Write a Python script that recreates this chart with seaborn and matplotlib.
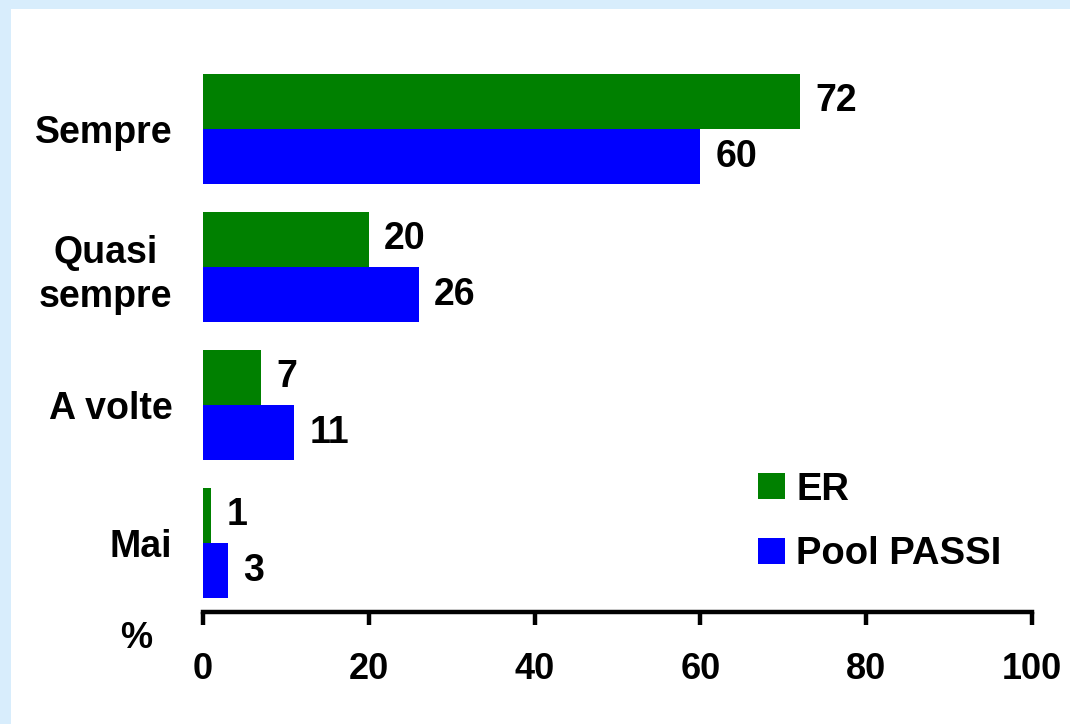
import matplotlib.pyplot as plt
import pandas as pd
import seaborn as sns
from matplotlib.patches import Rectangle

categories = ["Sempre", "Quasi\nsempre", "A volte", "Mai"]
series_names = ["ER", "Pool PASSI"]
er_values = [72, 20, 7, 1]
pool_values = [60, 26, 11, 3]
x_ticks = [0, 20, 40, 60, 80, 100]

df = pd.DataFrame({
    "categoria": categories * 2,
    "serie": [series_names[0]] * 4 + [series_names[1]] * 4,
    "valore": er_values + pool_values,
})

sns.set_style("white")
plt.rcParams["font.family"] = ["Liberation Sans", "DejaVu Sans"]
plt.rcParams["font.weight"] = "bold"
for key in ["text.color", "axes.labelcolor", "xtick.color", "ytick.color"]:
    plt.rcParams[key] = "black"

fig = plt.figure(figsize=(10.7, 7.24), dpi=100, facecolor="#d8edfc")
fig.patches.append(Rectangle((11 / 1070, 0), 1, 1 - 9 / 724, transform=fig.transFigure,
                             facecolor="white", edgecolor="none", zorder=-5))
ax = fig.add_axes([203 / 1070, 1 - 612 / 724, (1032 - 203) / 1070, (612 - 60) / 724])
ax.set_facecolor("none")

sns.barplot(data=df, y="categoria", x="valore", hue="serie", orient="h",
            palette=["#008000", "#0000ff"], width=0.8, saturation=1,
            linewidth=0, ax=ax)

for cont in ax.containers:
    ax.bar_label(cont, padding=11, fontsize=27, fontweight="bold")

ax.set_xlim(0, 100)
ax.set_ylim(3.5, -0.5)
ax.set_xticks(x_ticks)
ax.set_xlabel("")
ax.set_ylabel("")
for s in ["top", "right", "left"]:
    ax.spines[s].set_visible(False)
ax.spines["bottom"].set_linewidth(3.2)
ax.spines["bottom"].set_color("black")
ax.tick_params(axis="x", direction="out", length=9, width=3.2, pad=20,
               labelsize=26, bottom=True)
ax.tick_params(axis="y", length=0, pad=22, labelsize=27)
for lab in ax.get_yticklabels():
    lab.set_multialignment("center")
    lab.set_fontweight("bold")
    lab.set_linespacing(1.3)
for lab in ax.get_xticklabels():
    lab.set_fontweight("bold")

fig.text(136 / 1070, 1 - 639 / 724, "%", fontsize=26, fontweight="bold",
         ha="center", va="center")

handles, labels = ax.get_legend_handles_labels()
ax.legend(handles, labels, loc="center left",
          bbox_to_anchor=(758 / 1070, 1 - 522 / 724), bbox_transform=fig.transFigure,
          frameon=False, borderpad=0, borderaxespad=0,
          handlelength=0.7, handleheight=0.67, handletextpad=0.3,
          labelspacing=0.74, prop={"weight": "bold", "size": 27.5})

fig.savefig("out.png", dpi=100, facecolor=fig.get_facecolor())
